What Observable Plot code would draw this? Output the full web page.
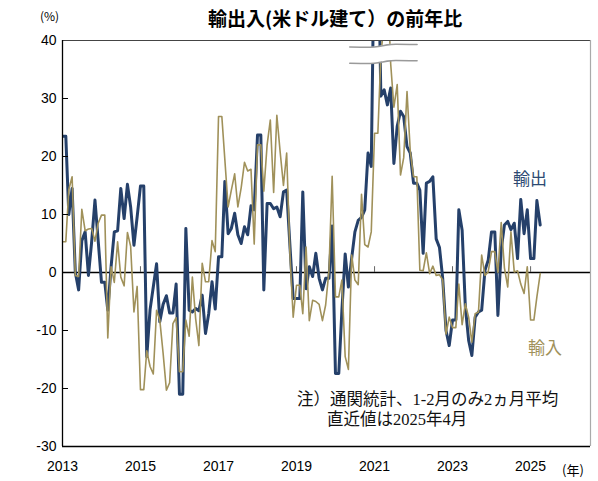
<!DOCTYPE html>
<html><head><meta charset="utf-8">
<script src="https://cdn.jsdelivr.net/npm/d3@7"></script>
<script src="https://cdn.jsdelivr.net/npm/@observablehq/plot@0.6"></script>
<style>
body{margin:0;background:#fff;}
#wrap{position:relative;width:598px;height:481px;font-family:"Noto Sans CJK JP",sans-serif;color:#000;}
.lbl{position:absolute;white-space:nowrap;line-height:1;}
svg{display:block;}
</style></head><body><div id="wrap"></div>
<script>
// Monthly YoY % (USD), Jan 2013 – Apr 2025; Jan & Feb share the 2‑month average
const exportYoY = [
  23.5, 23.5, 10.0, 14.5, 0.0, -3.0, 5.5, 7.0, -0.5, 5.3, 12.5, 5.5,
  -1.7, -1.7, -6.5, 1.0, 7.0, 7.2, 14.5, 9.3, 15.2, 11.3, 4.7, 9.6,
  14.9, 14.9, -14.5, -6.4, -2.5, 1.5, -8.5, -5.5, -4.0, -7.0, -7.0, -2.0,
  -21.0, -21.0, 7.6, -6.5, -6.8, -6.2, -6.6, -3.9, -10.5, -7.1, -1.6, -6.3,
  2.7, 2.7, 15.7, 6.7, 7.6, 10.2, 6.5, 5.0, 7.9, 6.5, 11.5, 10.8,
  23.7, 23.7, -3.0, 11.9, 11.9, 11.0, 11.3, 9.6, 13.9, 14.2, 4.5, -4.5,
  -4.5, -4.5, 13.9, -2.8, 1.0, -0.7, 3.3, -1.0, -3.0, -1.0, -1.0, 8.0,
  -17.4, -17.4, -6.6, 3.2, -2.5, 2.5, 7.0, 9.0, 9.5, 10.8, 20.6, 18.3,
  60.6, 60.6, 30.4, 31.5, 28.9, 31.8, 18.8, 25.2, 27.8, 26.9, 21.7, 20.6,
  15.4, 15.4, 14.2, 3.3, 15.4, 15.7, 16.5, 5.8, 4.3, -1.0, -10.0, -12.6,
  -8.2, -8.2, 10.8, 7.3, -5.9, -11.7, -14.3, -7.7, -6.8, -6.5, 0.4, 2.1,
  7.0, 7.0, -7.4, 4.0, 8.2, 8.8, 7.4, 8.5, 2.4, 12.6, 6.7, 10.8,
  2.4, 2.4, 12.4, 8.2
];
const importYoY = [
  5.3, 5.3, 14.3, 16.5, -0.5, -0.7, 10.9, 7.2, 7.5, 7.6, 5.4, 8.5,
  9.9, 9.9, -11.3, 1.0, -1.7, 5.3, -0.8, -2.3, 6.9, 4.5, -6.8, -2.4,
  -20.2, -20.2, -13.5, -16.2, -17.5, -6.5, -8.2, -13.9, -20.3, -19.0, -8.8, -7.8,
  -17.1, -17.1, -8.2, -11.0, -0.8, -8.0, -12.6, 1.6, -1.6, -1.6, 5.5, 3.6,
  26.9, 26.9, 19.5, 11.3, 14.2, 17.0, 11.3, 14.6, 19.0, 17.5, 17.8, 4.9,
  22.0, 22.0, 14.0, 22.0, 26.3, 13.8, 27.1, 20.8, 15.0, 20.6, 3.0, -7.7,
  -2.2, -2.2, -7.1, 4.4, -8.3, -4.8, -5.0, -5.5, -8.3, -5.6, 0.3, 16.6,
  -4.2, -4.2, -1.3, -14.5, -16.7, 3.0, -1.3, -2.1, 13.5, 4.8, 4.4, 7.0,
  24.0, 24.0, 37.5, 43.1, 51.1, 36.0, 28.5, 32.4, 16.8, 19.8, 31.2, 21.0,
  16.5, 16.5, 0.4, 0.3, 3.4, -0.2, 1.1, -0.5, -0.4, -1.3, -10.6, -7.7,
  -9.5, -9.5, -2.0, -9.0, -5.4, -7.7, -12.0, -7.1, -6.8, 3.0, -0.5, 0.1,
  3.6, 3.6, 0.0, 8.6, 0.8, -2.5, 7.0, 0.1, 0.3, -2.0, -3.6, 1.0,
  -8.2, -8.2, -4.2, -0.2
];
const startYear = 2013;
const yTicks = [-30, -20, -10, 0, 10, 20, 30, 40];
const xTickYears = [2013, 2015, 2017, 2019, 2021, 2023, 2025];
const zeroTickYears = [2015, 2017, 2019, 2021, 2023, 2025];

// axis break annotation (date offset in days from centre, value lift)
const breakCenter = Date.UTC(2021, 2, 20);
const breakDays = [-310, -120, -40, 40, 120, 320];
const breakLift = [-0.22, -0.26, -0.12, 0.14, 0.26, 0.2];
const breakHi = 39.1, breakLo = 36.3;

const navy = "#25406a", olive = "#a0915a";
const rows = exportYoY.map((v, i) => ({date: new Date(Date.UTC(startYear, i, 1)), exp: v, imp: importYoY[i]}));
const xStart = new Date(Date.UTC(2013, 0, 1)), xEnd = new Date(Date.UTC(2026, 6, 16));
const yr = y => new Date(Date.UTC(y, 0, 1));
const breakRows = breakDays.map((d, i) => ({date: new Date(breakCenter + d * 864e5), hi: breakHi + breakLift[i], lo: breakLo + breakLift[i]}));

const chart = Plot.plot({
  width: 598, height: 481,
  marginLeft: 62, marginRight: 8, marginTop: 40, marginBottom: 35,
  x: {type: "utc", domain: [xStart, xEnd], axis: null},
  y: {domain: [-30, 40], axis: null},
  marks: [
    Plot.ruleY([0], {stroke: "#000", strokeWidth: 1.3}),
    Plot.ruleX(zeroTickYears.map(yr), {x: d => d, y1: 0, y2: 1, stroke: "#666"}),
    Plot.line(rows, {x: "date", y: "exp", stroke: navy, strokeWidth: 3, clip: true}),
    Plot.line(rows, {x: "date", y: "imp", stroke: olive, strokeWidth: 1.6, clip: true}),
    Plot.areaY(breakRows, {x: "date", y1: "lo", y2: "hi", fill: "#fff", curve: "natural"}),
    Plot.line(breakRows, {x: "date", y: "hi", stroke: "#9a9a9a", strokeWidth: 1.6, curve: "natural"}),
    Plot.line(breakRows, {x: "date", y: "lo", stroke: "#9a9a9a", strokeWidth: 1.6, curve: "natural"}),
    Plot.tickY(yTicks, {y: d => d, insetRight: 522, stroke: "#000"}),
    Plot.ruleY([40], {stroke: "#444", strokeWidth: 1.2}),
    Plot.ruleY([-30], {stroke: "#000", strokeWidth: 1.3}),
    Plot.ruleX([xEnd], {stroke: "#aaa", strokeWidth: 1.2}),
    Plot.ruleX([xStart], {stroke: "#000", strokeWidth: 1.3}),
    Plot.text(yTicks, {frameAnchor: "left", y: d => d, text: d => String(d), textAnchor: "end", dx: -6, fontSize: 14, fontFamily: "Liberation Sans, Arial, sans-serif", fill: "#000"}),
    Plot.text(xTickYears.map(yr), {x: d => d, frameAnchor: "bottom", dy: 24, text: d => String(d.getUTCFullYear()), fontSize: 14, fontFamily: "Liberation Sans, Arial, sans-serif", fill: "#000"})
  ]
});
const wrap = document.getElementById("wrap");
wrap.appendChild(chart);

function label(text, css) {
  const d = document.createElement("div");
  d.className = "lbl";
  d.textContent = text;
  Object.assign(d.style, css);
  wrap.appendChild(d);
}
label("輸出入(米ドル建て）の前年比", {left: "208px", top: "8px", fontSize: "19px", fontWeight: "bold"});
label("(%)", {left: "40px", top: "10px", fontSize: "12px"});
label("(年)", {left: "562px", top: "463px", fontSize: "13px"});
label("輸出", {left: "513px", top: "169px", fontSize: "17px", color: "#2d4a72"});
label("輸入", {left: "528px", top: "338px", fontSize: "17px", color: olive});
const noteFont = '"Liberation Serif", "Noto Sans CJK JP", serif';
label("注）通関統計、1-2月のみ2ヵ月平均", {left: "297px", top: "392px", fontSize: "16.5px", fontFamily: noteFont, color: "#111"});
label("直近値は2025年4月", {left: "327px", top: "412px", fontSize: "16.5px", fontFamily: noteFont, color: "#111"});
</script></body></html>
